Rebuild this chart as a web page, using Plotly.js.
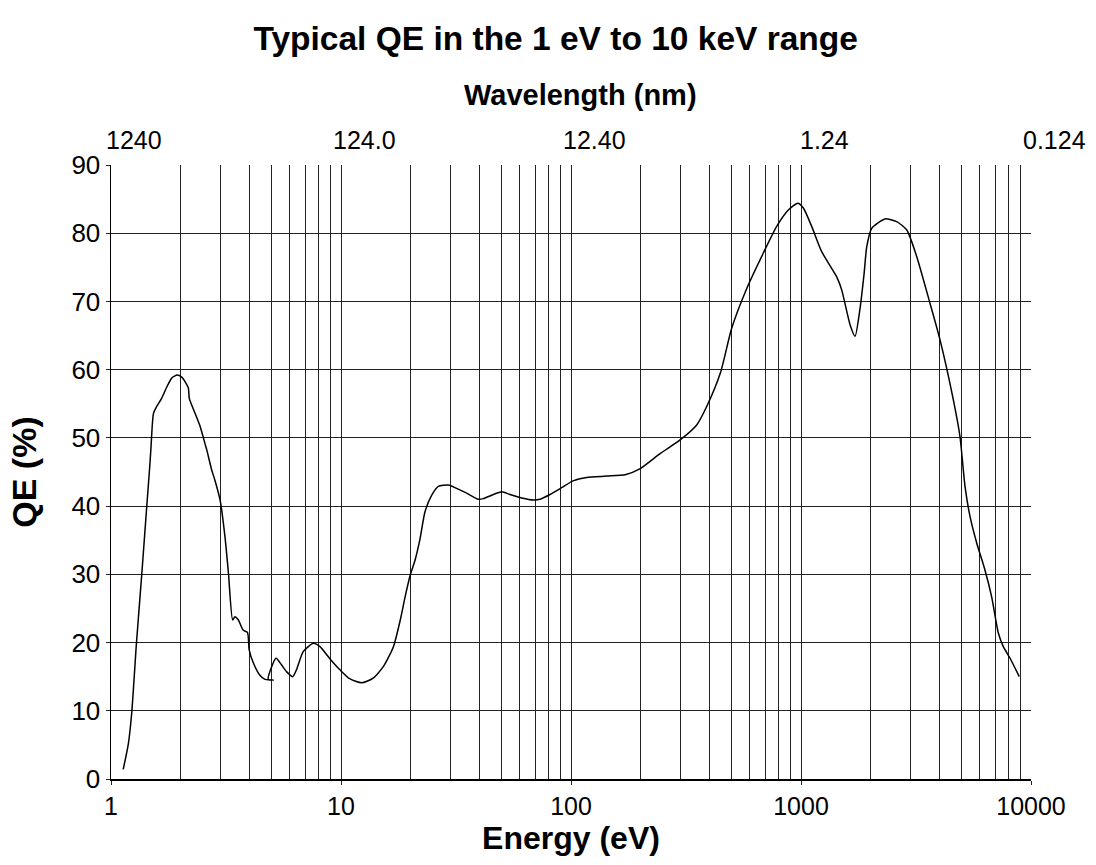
<!DOCTYPE html>
<html>
<head>
<meta charset="utf-8">
<script src="https://cdn.plot.ly/plotly-3.0.1.min.js"></script>
<style>html,body{margin:0;padding:0;background:#fff}#chart{width:1096px;height:865px}</style>
</head>
<body>
<div id="chart"></div>
<script>
// Energy (eV) and QE (%)
const energy = [1.13, 1.19, 1.23, 1.29, 1.36, 1.43, 1.47, 1.49, 1.53, 1.58, 1.66, 1.75, 1.84, 1.94, 2.03, 2.12, 2.17, 2.19, 2.32, 2.44, 2.56, 2.61, 2.74, 2.83, 2.98, 3.13, 3.24, 3.38, 3.46, 3.58, 3.76, 3.92, 3.99, 4.16, 4.44, 4.67, 5.08, 4.83, 5.0, 5.22, 5.52, 5.81, 6.17, 6.4, 6.86, 7.59, 8.1, 8.96, 9.9, 10.9, 12.3, 13.8, 15.3, 16.9, 18.1, 19.0, 20.0, 21.0, 22.0, 23.2, 24.8, 26.5, 29.3, 31.8, 35.2, 39.5, 41.6, 45.2, 50, 54.3, 61, 68.6, 73.3, 81, 91, 102, 117, 143, 172, 200, 244, 298, 352, 389, 446, 500, 581, 686, 784, 881, 968, 1024, 1113, 1230, 1430, 1503, 1634, 1718, 1806, 1881, 1931, 2028, 2317, 2606, 2880, 3184, 3640, 4020, 4594, 4911, 5165, 5430, 5807, 6310, 6745, 7210, 7580, 8110, 8890];
const qe = [1.4, 5.2, 9.6, 19.9, 29.9, 39.9, 45.3, 48.2, 53.6, 54.6, 55.8, 57.5, 58.8, 59.2, 58.9, 58.0, 57.3, 55.8, 53.6, 51.7, 49.2, 48.2, 45.3, 43.8, 40.9, 35.5, 30.2, 23.3, 23.8, 23.3, 21.8, 21.5, 18.9, 17.0, 15.2, 14.6, 14.5, 14.6, 16.5, 17.7, 16.7, 15.7, 15.0, 16.0, 18.7, 19.9, 19.4, 17.6, 16.0, 14.7, 14.1, 14.8, 16.5, 19.4, 23.3, 26.7, 29.9, 32.1, 35.0, 39.2, 41.6, 42.9, 43.1, 42.6, 41.9, 41.0, 41.1, 41.6, 42.1, 41.7, 41.2, 40.9, 41.0, 41.7, 42.7, 43.7, 44.2, 44.4, 44.6, 45.5, 47.7, 49.7, 51.9, 54.6, 59.5, 66.1, 71.9, 77.1, 81.0, 83.4, 84.4, 83.7, 81.0, 77.3, 73.6, 71.7, 66.6, 64.9, 69.0, 74.1, 78.0, 80.7, 82.1, 81.7, 80.5, 76.6, 69.7, 64.4, 55.6, 50.2, 42.9, 38.5, 34.6, 30.6, 26.7, 21.4, 19.4, 17.7, 15.0];

// Tick labels
const energyTicks = [1, 10, 100, 1000, 10000];
const energyTickText = ['1', '10', '100', '1000', '10000'];
const wavelengthTickText = ['1240', '124.0', '12.40', '1.24', '0.124'];
const qeTicks = [0, 10, 20, 30, 40, 50, 60, 70, 80, 90];

const FONT = '"Liberation Sans", Arial, sans-serif';
const GRID = '#222222';

const annotations = energyTicks.map((e, i) => ({
  x: Math.log10(e), xref: 'x', y: 1, yref: 'paper',
  text: wavelengthTickText[i], showarrow: false,
  xanchor: 'center', yanchor: 'middle', xshift: 23, yshift: 25,
  font: {family: FONT, size: 25, color: '#000'}
}));
annotations.push({
  x: 0.5, xref: 'paper', y: 1, yref: 'paper', xshift: 9, yshift: 70,
  text: '<b>Wavelength (nm)</b>', showarrow: false,
  xanchor: 'center', yanchor: 'middle',
  font: {family: FONT, size: 29, color: '#000'}
});

const trace = {
  x: energy, y: qe, type: 'scatter', mode: 'lines',
  line: {color: '#000', width: 1.5, shape: 'spline', smoothing: 0.6},
  hoverinfo: 'x+y'
};

const layout = {
  width: 1096, height: 865,
  margin: {l: 111, r: 65, t: 165, b: 86},
  paper_bgcolor: '#fff', plot_bgcolor: '#fff',
  showlegend: false,
  title: {
    text: '<b>Typical QE in the 1 eV to 10 keV range</b>',
    x: 0.507, xref: 'container', xanchor: 'center',
    y: 1 - 38 / 865, yref: 'container', yanchor: 'middle',
    font: {family: FONT, size: 33.5, color: '#000'}
  },
  xaxis: {
    type: 'log', range: [0, 4],
    tickvals: energyTicks, ticktext: energyTickText,
    ticks: 'outside', ticklen: 4, tickcolor: GRID,
    showgrid: true, gridcolor: GRID, gridwidth: 1,
    minor: {dtick: 'D1', showgrid: true, gridcolor: GRID, gridwidth: 1, ticks: ''},
    showline: true, linecolor: '#000', linewidth: 1.5, mirror: false,
    zeroline: false,
    tickfont: {family: FONT, size: 25, color: '#000'},
    title: {text: '<b>Energy (eV)</b>', standoff: 8, font: {family: FONT, size: 32, color: '#000'}}
  },
  yaxis: {
    range: [0, 90], tickvals: qeTicks,
    ticks: 'outside', ticklen: 4, tickcolor: GRID,
    showgrid: true, gridcolor: GRID, gridwidth: 1,
    showline: true, linecolor: '#000', linewidth: 1.5,
    zeroline: false,
    tickfont: {family: FONT, size: 26, color: '#000'},
    title: {text: '<b>QE (%)</b>', standoff: 24, font: {family: FONT, size: 34, color: '#000'}}
  },
  annotations: annotations
};

Plotly.newPlot('chart', [trace], layout, {displayModeBar: false, staticPlot: true});
</script>
</body>
</html>
